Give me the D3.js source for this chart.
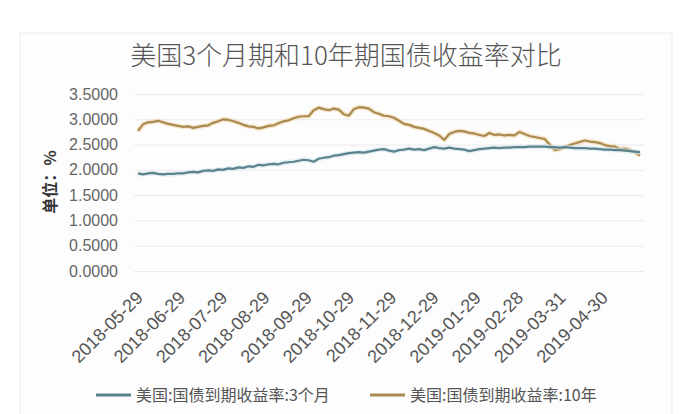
<!DOCTYPE html>
<html>
<head>
<meta charset="utf-8">
<script src="https://cdn.jsdelivr.net/npm/d3@7"></script>
<style>
  html, body { margin: 0; padding: 0; background: #ffffff; }
  svg { display: block; }
</style>
</head>
<body>
<svg id="chart" width="687" height="414"></svg>
<script>
// ---- data ----
const title = "美国3个月期和10年期国债收益率对比";
const yTitle = "单位：%";
const seriesNames = ["美国:国债到期收益率:3个月", "美国:国债到期收益率:10年"];
const dateLabels = ["2018-05-29","2018-06-29","2018-07-29","2018-08-29","2018-09-29","2018-10-29",
                    "2018-11-29","2018-12-29","2019-01-29","2019-02-28","2019-03-31","2019-04-30"];
const yTicks = [0, 0.5, 1.0, 1.5, 2.0, 2.5, 3.0, 3.5];

const yield3M = [1.93,1.91,1.93,1.94,1.92,1.91,1.92,1.92,1.93,1.93,
                 1.95,1.96,1.95,1.98,1.99,1.98,2.01,2.00,2.03,2.02,
                 2.05,2.04,2.07,2.06,2.10,2.09,2.11,2.12,2.11,2.14,
                 2.15,2.16,2.18,2.20,2.19,2.16,2.22,2.24,2.25,2.28,
                 2.29,2.31,2.33,2.34,2.35,2.34,2.36,2.38,2.40,2.41,
                 2.38,2.36,2.39,2.40,2.42,2.40,2.41,2.39,2.42,2.45,
                 2.43,2.42,2.44,2.42,2.41,2.40,2.37,2.39,2.41,2.42,
                 2.43,2.44,2.43,2.44,2.44,2.45,2.45,2.45,2.46,2.46,
                 2.46,2.46,2.45,2.45,2.44,2.45,2.44,2.43,2.43,2.43,
                 2.42,2.42,2.41,2.40,2.40,2.39,2.39,2.38,2.37,2.36,2.35];

const yield10Y = [2.77,2.90,2.94,2.95,2.97,2.94,2.91,2.89,2.87,2.85,
                  2.86,2.83,2.85,2.87,2.88,2.93,2.96,3.00,2.99,2.96,
                  2.93,2.89,2.86,2.85,2.82,2.84,2.87,2.88,2.92,2.96,
                  2.98,3.02,3.05,3.06,3.06,3.18,3.23,3.20,3.18,3.21,
                  3.19,3.10,3.07,3.20,3.24,3.23,3.21,3.14,3.11,3.07,
                  3.06,3.03,2.97,2.91,2.89,2.85,2.83,2.81,2.77,2.73,
                  2.68,2.59,2.71,2.75,2.77,2.76,2.73,2.72,2.69,2.67,
                  2.73,2.69,2.70,2.68,2.69,2.68,2.75,2.71,2.67,2.65,
                  2.63,2.61,2.50,2.39,2.41,2.45,2.49,2.52,2.55,2.58,
                  2.56,2.55,2.53,2.49,2.47,2.46,2.41,2.42,2.39,2.35,2.28];

const colors = ["#5c828c", "#a98a50"];

// ---- chart ----
const svg = d3.select("#chart");
const cjk = "'Noto Sans CJK SC', 'Microsoft YaHei', sans-serif";
const latin = "'Liberation Sans', Arial, sans-serif";

// frame
svg.append("rect").attr("x", 20).attr("y", 33).attr("width", 652).attr("height", 400)
  .attr("fill", "#fdfdfd").attr("stroke", "#ececec").attr("stroke-width", 1);

svg.append("text").attr("x", 346).attr("y", 65).attr("text-anchor", "middle")
  .attr("font-family", cjk).attr("font-size", 26).attr("font-weight", 300)
  .attr("fill", "#555").text(title);

const x = d3.scaleLinear().domain([0, yield3M.length - 1]).range([138, 640]);
const y = d3.scaleLinear().domain([0, 3.5]).range([271, 94]);

const yAxis = d3.axisLeft(y).tickValues(yTicks).tickFormat(d3.format(".4f"))
  .tickSize(-510).tickPadding(12);
const gy = svg.append("g").attr("transform", "translate(134,0)").call(yAxis);
gy.select(".domain").remove();
gy.selectAll(".tick line").attr("stroke", "#ebebeb").attr("stroke-width", 1);
gy.selectAll(".tick text").attr("font-family", latin).attr("font-size", 16)
  .attr("fill", "#666").attr("x", -16);

svg.append("text").attr("transform", "translate(56,182) rotate(-90)")
  .attr("text-anchor", "middle").attr("font-family", cjk).attr("font-size", 16)
  .attr("font-weight", 700).attr("fill", "#333").text(yTitle);

// x labels
const xl = d3.scalePoint().domain(dateLabels).range([144, 609]);
svg.append("g").selectAll("text").data(dateLabels).join("text")
  .attr("transform", d => `translate(${xl(d)},299) rotate(-45)`)
  .attr("text-anchor", "end").attr("font-family", latin).attr("font-size", 18)
  .attr("fill", "#555").text(d => d);

// lines
const line = d3.line().x((d, i) => x(i)).y(d => y(d));
[yield10Y, yield3M].forEach((s, k) => {
  const c = k === 0 ? colors[1] : colors[0];
  svg.append("path").datum(s).attr("d", line).attr("fill", "none")
    .attr("stroke", k === 0 ? "#f3d9b0" : "#d3eaf2").attr("stroke-width", 5)
    .attr("stroke-linejoin", "round").attr("opacity", 0.6);
  svg.append("path").datum(s).attr("d", line).attr("fill", "none")
    .attr("stroke", c).attr("stroke-width", 2.2).attr("stroke-linejoin", "round");
});

// legend
const legend = [
  { name: seriesNames[0], color: colors[0], x: 96 },
  { name: seriesNames[1], color: colors[1], x: 370 }
];
const lg = svg.append("g").selectAll("g").data(legend).join("g")
  .attr("transform", d => `translate(${d.x},395)`);
lg.append("line").attr("x1", 0).attr("x2", 35).attr("y1", 0).attr("y2", 0)
  .attr("stroke", d => d.color).attr("stroke-width", 3);
lg.append("text").attr("x", 40).attr("y", 5.5).attr("font-family", cjk)
  .attr("font-size", 16).attr("fill", "#555").text(d => d.name);
</script>
</body>
</html>
